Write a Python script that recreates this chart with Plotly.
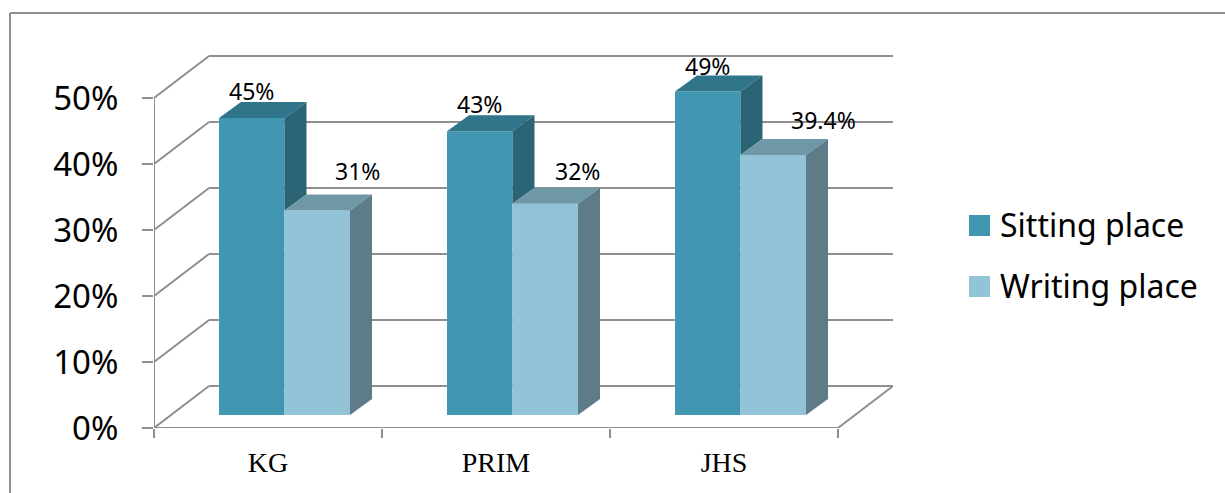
import plotly.graph_objects as go

categories = ["KG", "PRIM", "JHS"]
series_names = ["Sitting place", "Writing place"]
sitting = [45, 43, 49]
writing = [31, 32, 39.4]
sitting_labels = ["45%", "43%", "49%"]
writing_labels = ["31%", "32%", "39.4%"]
y_ticks = [0, 10, 20, 30, 40, 50]
y_tick_labels = ["0%", "10%", "20%", "30%", "40%", "50%"]

# layout constants (pixels of the 1225x493 page)
W, H = 1225, 493
L, R, T, B = 154, 893, 55, 428
PX_CAT = 228.0
PX_PCT = 6.6
GRAY = "#8f8f8f"
FONT = "Noto Sans"

wall_dx, wall_dy = 55 / PX_CAT, 42 / PX_PCT
floor_dy = 13 / PX_PCT
depth_dx, depth_dy = 22 / PX_CAT, 16 / PX_PCT
bar_w = 65.5 / PX_CAT
bar_start = 65 / PX_CAT

colors = {
    "s_front": "#4197B2", "s_side": "#2B6475", "s_top": "#307589",
    "w_front": "#93C3D6", "w_side": "#5E7C88", "w_top": "#6F98A7",
}


def px(x):
    return (x - L) / (R - L)


def py(y):
    return (B - y) / (B - T)


shapes = []


def seg(x0, y0, x1, y1):
    shapes.append(dict(type="line", xref="x", yref="y", x0=x0, y0=y0, x1=x1, y1=y1,
                       layer="below", line=dict(color=GRAY, width=2)))


n_cat = len(categories)
for t in y_ticks:
    seg(0, t, wall_dx, t + wall_dy)
    seg(wall_dx, t + wall_dy, n_cat + wall_dx, t + wall_dy)
seg(0, 0, 0, y_ticks[-1])
seg(0, 0, n_cat, 0)
seg(n_cat, 0, n_cat + wall_dx, wall_dy)

# outer frame
for a, b, c, d in [(10, 493, 10, 13), (10, 13, 1225, 13)]:
    shapes.append(dict(type="line", xref="paper", yref="paper", x0=px(a), y0=py(b), x1=px(c), y1=py(d),
                       layer="below", line=dict(color=GRAY, width=2)))

fig = go.Figure()

xs_s = [i + bar_start + bar_w / 2 for i in range(n_cat)]
xs_w = [i + bar_start + bar_w * 1.5 for i in range(n_cat)]
fig.add_trace(go.Bar(x=xs_s, y=sitting, base=floor_dy, width=bar_w, name=series_names[0],
                     marker=dict(color=colors["s_front"], line=dict(width=0)), showlegend=False))
fig.add_trace(go.Bar(x=xs_w, y=writing, base=floor_dy, width=bar_w, name=series_names[1],
                     marker=dict(color=colors["w_front"], line=dict(width=0)), showlegend=False))


def poly(xs, ys, color):
    fig.add_trace(go.Scatter(x=xs + xs[:1], y=ys + ys[:1], mode="lines", fill="toself", fillcolor=color,
                             line=dict(width=0), hoverinfo="skip", showlegend=False))


for i in range(n_cat):
    xl = xs_s[i] - bar_w / 2
    xm = xs_s[i] + bar_w / 2
    xr = xs_w[i] + bar_w / 2
    s = sitting[i] + floor_dy
    w = writing[i] + floor_dy
    # sitting: top and visible part of the side
    poly([xl, xl + depth_dx, xm + depth_dx, xm], [s, s + depth_dy, s + depth_dy, s], colors["s_top"])
    poly([xm, xm + depth_dx, xm + depth_dx, xm], [s, s + depth_dy, w + depth_dy, w], colors["s_side"])
    # writing: top and side
    poly([xm, xm + depth_dx, xr + depth_dx, xr], [w, w + depth_dy, w + depth_dy, w], colors["w_top"])
    poly([xr, xr + depth_dx, xr + depth_dx, xr], [w, w + depth_dy, floor_dy + depth_dy, floor_dy], colors["w_side"])

# data labels, anchored on the bars' front top edges
annotations = []
s_shift = [(0, 27), (0, 27), (0, 26)]
w_shift = [(40, 39), (32, 33), (50, 35)]
for i in range(n_cat):
    for x, v, txt, (sx, sy) in [(xs_s[i], sitting[i], sitting_labels[i], s_shift[i]),
                                (xs_w[i], writing[i], writing_labels[i], w_shift[i])]:
        annotations.append(dict(x=x, y=v + floor_dy, xref="x", yref="y", text=txt, showarrow=False,
                                xshift=sx, yshift=sy, font=dict(family=FONT, size=23, color="#000000")))

# legend
for name, col, ytop in zip(series_names, [colors["s_front"], colors["w_front"]], [215, 276]):
    shapes.append(dict(type="rect", xref="paper", yref="paper", x0=px(969), x1=px(990), y0=py(ytop + 21), y1=py(ytop),
                       fillcolor=col, line=dict(width=0)))
    annotations.append(dict(xref="paper", yref="paper", x=px(998), y=py(ytop + 9.5), xanchor="left", yanchor="middle",
                            text=name, showarrow=False, font=dict(family=FONT, size=32, color="#000000")))

fig.update_layout(
    width=W, height=H, autosize=False, paper_bgcolor="white", plot_bgcolor="white",
    margin=dict(l=L, r=W - R, t=T, b=H - B, pad=0),
    barmode="overlay", showlegend=False, shapes=shapes, annotations=annotations,
    xaxis=dict(range=[0, (R - L) / PX_CAT], tickvals=[i + 0.5 for i in range(n_cat)], ticktext=categories,
               ticks="", showgrid=False, zeroline=False, showline=False, ticklabelstandoff=15,
               tickfont=dict(family="Liberation Serif", size=28, color="#000000"),
               minor=dict(tickvals=list(range(n_cat + 1)), ticks="outside", ticklen=9, tickwidth=2, tickcolor=GRAY, showgrid=False)),
    yaxis=dict(range=[0, (B - T) / PX_PCT], tickvals=y_ticks, ticktext=y_tick_labels, ticks="outside", ticklen=11,
               tickwidth=2, tickcolor=GRAY, showgrid=False, zeroline=False, showline=False, ticklabelstandoff=17,
               tickfont=dict(family=FONT, size=33, color="#000000")),
)

fig.write_html("out.html", config={"displayModeBar": False}, post_script="document.body.style.margin='0';")
